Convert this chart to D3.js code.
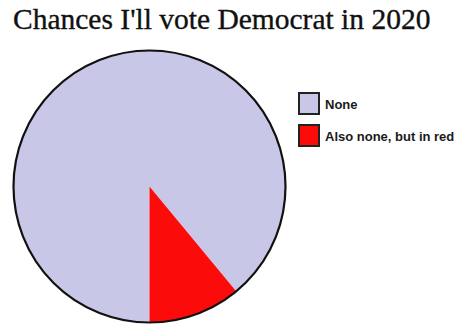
<!DOCTYPE html>
<html>
<head>
<meta charset="utf-8">
<script src="https://cdn.jsdelivr.net/npm/d3@7"></script>
<style>
html, body { margin: 0; padding: 0; background: #fff; }
svg { display: block; }
</style>
</head>
<body>
<svg id="chart" width="461" height="327"></svg>
<script>
const title = "Chances I'll vote Democrat in 2020";
const categories = ["None", "Also none, but in red"];
const values = [89, 11];
const colors = ["#c9c7e7", "#fc0b0b"];

const svg = d3.select("#chart");

svg.append("text")
  .attr("x", 13)
  .attr("y", 29)
  .attr("font-family", "'Liberation Serif', 'Times New Roman', serif")
  .attr("font-size", 29.5)
  .attr("fill", "#111")
  .attr("stroke", "#111")
  .attr("stroke-width", 0.35)
  .text(title);

const cx = 149.5, cy = 186.5, r = 136;
const pie = d3.pie().sort(null).startAngle(Math.PI).endAngle(3 * Math.PI);
const arc = d3.arc().innerRadius(0).outerRadius(r);
const color = d3.scaleOrdinal().domain(categories).range(colors);

const data = categories.map((c, i) => ({ cat: c, value: values[i] }));
const g = svg.append("g").attr("transform", `translate(${cx},${cy})`);
g.selectAll("path.slice")
  .data(pie.value(d => d.value)(data))
  .join("path")
  .attr("class", "slice")
  .attr("d", arc)
  .attr("fill", d => color(d.data.cat));
g.append("circle")
  .attr("r", r)
  .attr("fill", "none")
  .attr("stroke", "#111")
  .attr("stroke-width", 2.2);

const lg = svg.append("g").attr("transform", "translate(298,92)");
const items = lg.selectAll("g.item")
  .data(categories)
  .join("g")
  .attr("class", "item")
  .attr("transform", (d, i) => `translate(0,${i * 32})`);
items.append("rect")
  .attr("x", 1)
  .attr("y", 1)
  .attr("width", 20)
  .attr("height", 21)
  .attr("fill", d => color(d))
  .attr("stroke", "#222")
  .attr("stroke-width", 2);
items.append("text")
  .attr("x", 27)
  .attr("y", 16.5)
  .attr("font-family", "'Liberation Sans', Arial, sans-serif")
  .attr("font-weight", "bold")
  .attr("font-size", 13)
  .attr("fill", "#1a1a1a")
  .text(d => d);
</script>
</body>
</html>
